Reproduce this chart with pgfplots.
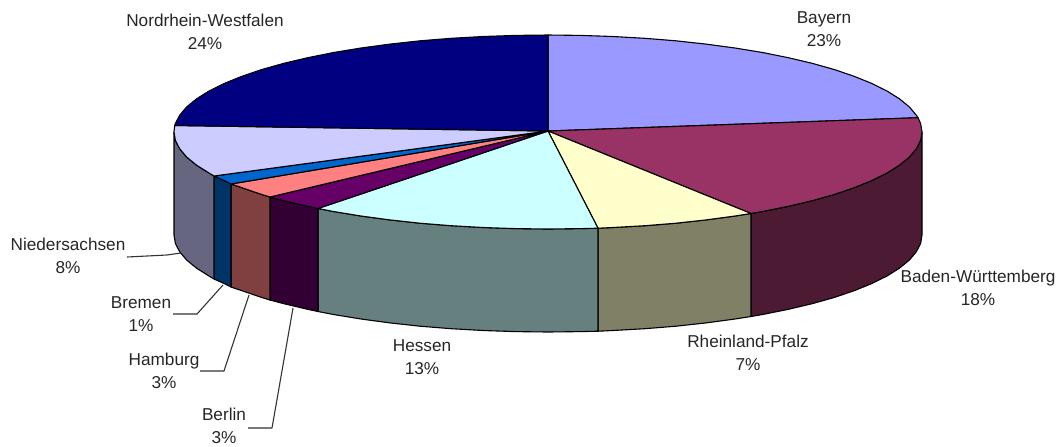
\documentclass[border=0pt]{standalone}
\usepackage{fontspec}
\setmainfont{Liberation Sans}
\usepackage{pgfplots}
\pgfplotsset{compat=1.18}
\definecolor{cBayern}{HTML}{9999FF}
\definecolor{cBW}{HTML}{993366}
\definecolor{cBWs}{HTML}{4D1A33}
\definecolor{cRP}{HTML}{FFFFCC}
\definecolor{cRPs}{HTML}{808066}
\definecolor{cHE}{HTML}{CCFFFF}
\definecolor{cHEs}{HTML}{668080}
\definecolor{cBE}{HTML}{660066}
\definecolor{cBEs}{HTML}{330033}
\definecolor{cHH}{HTML}{FF8080}
\definecolor{cHHs}{HTML}{804040}
\definecolor{cHB}{HTML}{0066CC}
\definecolor{cHBs}{HTML}{003366}
\definecolor{cNI}{HTML}{CCCCFF}
\definecolor{cNIs}{HTML}{666680}
\definecolor{cNW}{HTML}{000080}
\tikzset{lbl/.style={align=center, inner sep=0pt, text=black!85, font=\fontsize{8.6}{11.4}\selectfont}}
\begin{document}
\begin{tikzpicture}
\begin{axis}[
  scale only axis,
  width=529.5pt, height=223pt,
  xmin=0, xmax=1059, ymin=0, ymax=446,
  y dir=reverse,
  hide axis,
  clip=false,
  every axis plot/.append style={no markers, line width=0.55pt, draw=black, line join=round},
]
% keep the page as large as the axis
\path (axis cs:0,0) rectangle (axis cs:1059,446);
% side walls
\addplot[fill=cBWs] coordinates {(922,132)(920.6,140.5)(916.3,148.8)(909.3,157.1)(899.4,165.2)(887,173)(871.9,180.5)(854.4,187.6)(834.5,194.4)(812.5,200.6)(788.4,206.3)(762.5,211.5)(751,213.5)
  (751,316.5)(762.5,314.5)(788.4,309.3)(812.5,303.6)(834.5,297.4)(854.4,290.6)(871.9,283.5)(887,276)(899.4,268.2)(909.3,260.1)(916.3,251.8)(920.6,243.5)(922,235)} -- cycle;
\addplot[fill=cRPs] coordinates {(751,213.5)(735,216)(706.1,219.9)(675.9,223.2)(644.8,225.7)(612.9,227.5)(598,228.2)
  (598,331.2)(612.9,330.5)(644.8,328.7)(675.9,326.2)(706.1,322.9)(735,319)(751,316.5)} -- cycle;
\addplot[fill=cHEs] coordinates {(598,228.2)(580.6,228.6)(548,229)(515.4,228.6)(483.1,227.5)(451.2,225.7)(420.1,223.2)(389.9,219.9)(361,216)(333.5,211.5)(318,208.5)
  (318,311.5)(333.5,314.5)(361,319)(389.9,322.9)(420.1,326.2)(451.2,328.7)(483.1,330.5)(515.4,331.6)(548,332)(580.6,331.6)(598,331.2)} -- cycle;
\addplot[fill=cBEs] coordinates {(318,208.5)(307.6,206.3)(283.5,200.6)(270,197)(270,300)(283.5,303.6)(307.6,309.3)(318,311.5)} -- cycle;
\addplot[fill=cHHs] coordinates {(270,197)(261.5,194.4)(241.6,187.6)(231,184)(231,287)(241.6,290.6)(261.5,297.4)(270,300)} -- cycle;
\addplot[fill=cHBs] coordinates {(231,184)(224.1,180.5)(214,176)(214,279)(224.1,283.5)(231,287)} -- cycle;
\addplot[fill=cNIs] coordinates {(214,176)(209,173)(196.6,165.2)(186.7,157.1)(179.7,148.8)(175.4,140.5)(174,132)
  (174,235)(175.4,243.5)(179.7,251.8)(186.7,260.1)(196.6,268.2)(209,276)(214,279)} -- cycle;
% top slices
\addplot[fill=cBayern] coordinates {(548,131)(548,35)(580.6,35.4)(612.9,36.5)(644.8,38.3)(675.9,40.8)(706.1,44.1)(735,48)(762.5,52.5)(788.4,57.7)(812.5,63.4)(834.5,69.6)(854.4,76.4)(871.9,83.5)(887,91)(899.4,98.8)(909.3,106.9)(916.3,115.2)(918,117.7)} -- cycle;
\addplot[fill=cBW] coordinates {(548,131)(918,117.7)(920.6,123.5)(922,132)(920.6,140.5)(916.3,148.8)(909.3,157.1)(899.4,165.2)(887,173)(871.9,180.5)(854.4,187.6)(834.5,194.4)(812.5,200.6)(788.4,206.3)(762.5,211.5)(751,213.5)} -- cycle;
\addplot[fill=cRP] coordinates {(548,131)(751,213.5)(735,216)(706.1,219.9)(675.9,223.2)(644.8,225.7)(612.9,227.5)(598,228.2)} -- cycle;
\addplot[fill=cHE] coordinates {(548,131)(598,228.2)(580.6,228.6)(548,229)(515.4,228.6)(483.1,227.5)(451.2,225.7)(420.1,223.2)(389.9,219.9)(361,216)(333.5,211.5)(318,208.5)} -- cycle;
\addplot[fill=cBE] coordinates {(548,131)(318,208.5)(307.6,206.3)(283.5,200.6)(270,197)} -- cycle;
\addplot[fill=cHH] coordinates {(548,131)(270,197)(261.5,194.4)(241.6,187.6)(231,184)} -- cycle;
\addplot[fill=cHB] coordinates {(548,131)(231,184)(224.1,180.5)(214,176)} -- cycle;
\addplot[fill=cNI] coordinates {(548,131)(214,176)(209,173)(196.6,165.2)(186.7,157.1)(179.7,148.8)(175.4,140.5)(174,132)(174.7,125.5)} -- cycle;
\addplot[fill=cNW] coordinates {(548,131)(174.7,125.5)(175.4,123.5)(179.7,115.2)(186.7,106.9)(196.6,98.8)(209,91)(224.1,83.5)(241.6,76.4)(261.5,69.6)(283.5,63.4)(307.6,57.7)(333.5,52.5)(361,48)(389.9,44.1)(420.1,40.8)(451.2,38.3)(483.1,36.5)(515.4,35.4)(548,35)} -- cycle;
% leader lines
\addplot[solid, draw=black!80] coordinates {(127,257)(167,255)(181,253)};
\addplot[solid, draw=black!80] coordinates {(173,314)(197,314)(223,285)};
\addplot[solid, draw=black!80] coordinates {(200,371)(224,371)(249,295)};
\addplot[solid, draw=black!80] coordinates {(248,428)(272,428)(293,308)};
% labels
\node[lbl] at (axis cs:205,32) {Nordrhein-Westfalen\\24\%};
\node[lbl] at (axis cs:824,29) {Bayern\\23\%};
\node[lbl] at (axis cs:978,288) {Baden-W\"urttemberg\\18\%};
\node[lbl] at (axis cs:748,353) {Rheinland-Pfalz\\7\%};
\node[lbl] at (axis cs:422,357) {Hessen\\13\%};
\node[lbl] at (axis cs:68,256) {Niedersachsen\\8\%};
\node[lbl] at (axis cs:141,314) {Bremen\\1\%};
\node[lbl] at (axis cs:164,371) {Hamburg\\3\%};
\node[lbl] at (axis cs:224,426) {Berlin\\3\%};
\end{axis}
\end{tikzpicture}
\end{document}
